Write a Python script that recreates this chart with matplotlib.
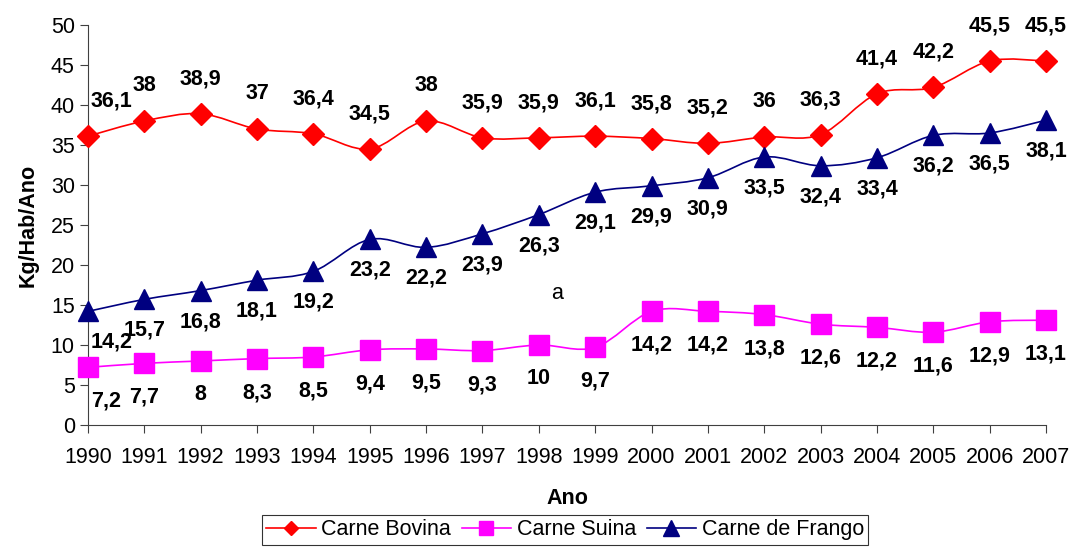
import matplotlib
matplotlib.use("Agg")
import matplotlib.pyplot as plt
from matplotlib.path import Path
from matplotlib.patches import PathPatch
from matplotlib.lines import Line2D

anos = list(range(1990, 2008))
bovina = [36.1, 38, 38.9, 37, 36.4, 34.5, 38, 35.9, 35.9, 36.1, 35.8, 35.2, 36, 36.3, 41.4, 42.2, 45.5, 45.5]
suina = [7.2, 7.7, 8, 8.3, 8.5, 9.4, 9.5, 9.3, 10, 9.7, 14.2, 14.2, 13.8, 12.6, 12.2, 11.6, 12.9, 13.1]
frango = [14.2, 15.7, 16.8, 18.1, 19.2, 23.2, 22.2, 23.9, 26.3, 29.1, 29.9, 30.9, 33.5, 32.4, 33.4, 36.2, 36.5, 38.1]

plt.rcParams['font.family'] = ['Liberation Sans', 'DejaVu Sans']


def smooth_path(xs, ys):
    # bezier through the points, like the smoothed lines of the spreadsheet
    verts = [(xs[0], ys[0])]
    codes = [Path.MOVETO]
    n = len(xs)
    for i in range(n - 1):
        x0, y0 = (xs[i - 1], ys[i - 1]) if i > 0 else (xs[i], ys[i])
        x1, y1 = xs[i], ys[i]
        x2, y2 = xs[i + 1], ys[i + 1]
        x3, y3 = (xs[i + 2], ys[i + 2]) if i + 2 < n else (x2, y2)
        c1 = (x1 + (x2 - x0) / 6, y1 + (y2 - y0) / 6)
        c2 = (x2 - (x3 - x1) / 6, y2 - (y3 - y1) / 6)
        verts += [c1, c2, (x2, y2)]
        codes += [Path.CURVE4] * 3
    return Path(verts, codes)


def fmt(v):
    return '{:g}'.format(v).replace('.', ',')


fig = plt.figure(figsize=(10.7, 5.49), dpi=100)
ax = fig.add_axes([0.0822, 0.2259, 0.8954, 0.7286])

series = [
    (bovina, '#FF0000', 'D', 11, 'Carne Bovina', 35, 7),
    (suina, '#FF00FF', 's', 14, 'Carne Suina', -34, 9.5),
    (frango, '#000080', '^', 15, 'Carne de Frango', -31, 11),
]

handles = []
for vals, cor, mk, ms, nome, dy, lms in series:
    ax.add_patch(PathPatch(smooth_path(anos, vals), facecolor='none',
                           edgecolor=cor, lw=1.2, clip_on=False, zorder=2))
    ax.plot(anos, vals, ls='none', marker=mk, ms=ms, color=cor,
            clip_on=False, zorder=3)
    for i, (x, v) in enumerate(zip(anos, vals)):
        dx = 3 if i == 0 else 0
        ax.annotate(fmt(v), (x, v), xytext=(dx, dy), textcoords='offset pixels',
                    ha='left' if i == 0 else 'center', va='center',
                    fontsize=15.5, fontweight='bold', color='black',
                    annotation_clip=False)
    handles.append(Line2D([], [], color=cor, lw=1.2, marker=mk, ms=lms))

ax.text(1998.32, 16.4, 'a', fontsize=15.5, ha='center', va='center')

ax.set_xlim(1990, 2007)
ax.set_ylim(0, 50)
ax.set_xticks(anos)
ax.set_yticks(range(0, 51, 5))
ax.tick_params(labelsize=15.5, length=5.5, color='#404040', direction='out')
ax.tick_params(axis='x', pad=10)
ax.tick_params(axis='y', pad=4)
for s in ['top', 'right']:
    ax.spines[s].set_visible(False)
for s in ['left', 'bottom']:
    ax.spines[s].set_color('#404040')

ax.set_ylabel('Kg/Hab/Ano', fontsize=15.5, fontweight='bold', labelpad=9)
ax.set_xlabel('Ano', fontsize=15.5, fontweight='bold', labelpad=15)

leg = fig.legend(handles, [s[4] for s in series], loc='upper left',
                 bbox_to_anchor=(262 / 1070, 1 - 515 / 549), ncol=3,
                 fontsize=15.5, frameon=True, fancybox=False,
                 edgecolor='black', handlelength=2.3, handletextpad=0.25,
                 columnspacing=0.5, borderpad=0.2, borderaxespad=0)
leg.get_frame().set_linewidth(0.8)

fig.savefig('out.png', dpi=100)
